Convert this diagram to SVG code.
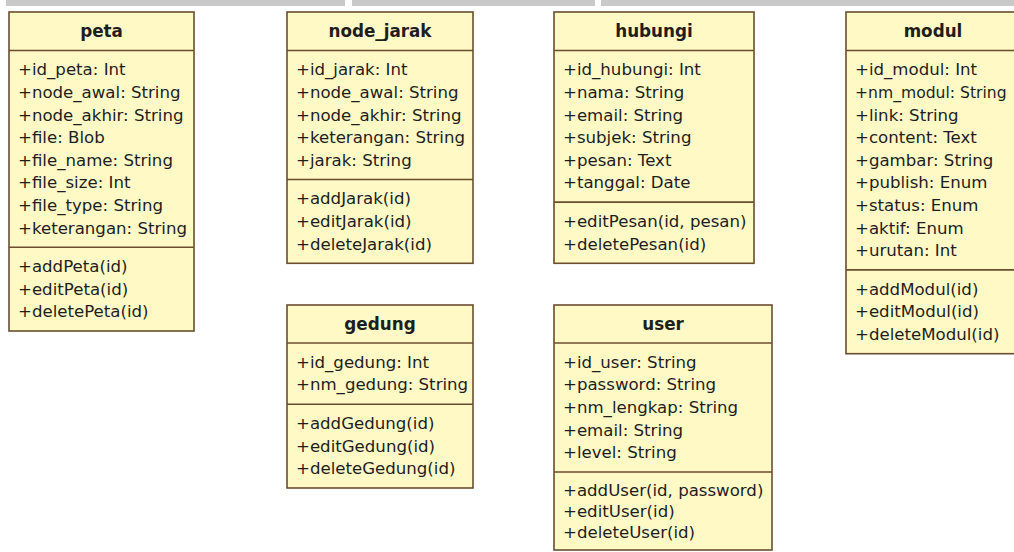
<svg xmlns="http://www.w3.org/2000/svg" width="1014" height="552" viewBox="0 0 1014 552">
  <style>
    .box { fill: #FFF9C6; stroke: #6A4E2E; stroke-width: 1.6; }
    .sep { stroke: #6A4E2E; stroke-width: 1.6; }
    .title { font-family: "DejaVu Sans", sans-serif; font-size: 16.8px; font-weight: bold; fill: #1E1E1E; text-anchor: middle; }
    .row { font-family: "DejaVu Sans", sans-serif; font-size: 16.6px; fill: #1E1E1E; }
    .tight { font-size: 15.6px; }
  </style>

  <rect x="0" y="0" width="1014" height="552" fill="#FFFFFF"/>
  <!-- grey strip along the top edge -->
  <g fill="#C9C9C9">
    <rect x="6" y="0" width="339" height="6"/>
    <rect x="352" y="0" width="243" height="6"/>
    <rect x="601" y="0" width="413" height="6"/>
  </g>

  <!-- classes -->
  <g id="peta">
    <rect class="box" x="9" y="12" width="185" height="319"/>
    <line class="sep" x1="9" y1="50.5" x2="194" y2="50.5"/>
    <line class="sep" x1="9" y1="247.3" x2="194" y2="247.3"/>
    <text class="title" x="101.5" y="37">peta</text>
    <text class="row" x="18" y="75.3">+id_peta: Int</text>
    <text class="row" x="18" y="97.9">+node_awal: String</text>
    <text class="row" x="18" y="120.5">+node_akhir: String</text>
    <text class="row" x="18" y="143.1">+file: Blob</text>
    <text class="row" x="18" y="165.7">+file_name: String</text>
    <text class="row" x="18" y="188.3">+file_size: Int</text>
    <text class="row" x="18" y="210.9">+file_type: String</text>
    <text class="row" x="18" y="233.5">+keterangan: String</text>
    <text class="row" x="18" y="272.1">+addPeta(id)</text>
    <text class="row" x="18" y="294.7">+editPeta(id)</text>
    <text class="row" x="18" y="317.3">+deletePeta(id)</text>
  </g>

  <g id="node_jarak">
    <rect class="box" x="287" y="12" width="186" height="251.3"/>
    <line class="sep" x1="287" y1="50.5" x2="473" y2="50.5"/>
    <line class="sep" x1="287" y1="179.5" x2="473" y2="179.5"/>
    <text class="title" x="380" y="37">node_jarak</text>
    <text class="row" x="296" y="75.3">+id_jarak: Int</text>
    <text class="row" x="296" y="97.9">+node_awal: String</text>
    <text class="row" x="296" y="120.5">+node_akhir: String</text>
    <text class="row" x="296" y="143.1">+keterangan: String</text>
    <text class="row" x="296" y="165.7">+jarak: String</text>
    <text class="row" x="296" y="204.3">+addJarak(id)</text>
    <text class="row" x="296" y="226.9">+editJarak(id)</text>
    <text class="row" x="296" y="249.5">+deleteJarak(id)</text>
  </g>

  <g id="hubungi">
    <rect class="box" x="554" y="12" width="200" height="251.3"/>
    <line class="sep" x1="554" y1="50.5" x2="754" y2="50.5"/>
    <line class="sep" x1="554" y1="202.1" x2="754" y2="202.1"/>
    <text class="title" x="654" y="37">hubungi</text>
    <text class="row" x="563" y="75.3">+id_hubungi: Int</text>
    <text class="row" x="563" y="97.9">+nama: String</text>
    <text class="row" x="563" y="120.5">+email: String</text>
    <text class="row" x="563" y="143.1">+subjek: String</text>
    <text class="row" x="563" y="165.7">+pesan: Text</text>
    <text class="row" x="563" y="188.3">+tanggal: Date</text>
    <text class="row" x="563" y="226.9">+editPesan(id, pesan)</text>
    <text class="row" x="563" y="249.5">+deletePesan(id)</text>
  </g>

  <g id="modul">
    <rect class="box" x="846" y="12" width="174" height="341.7"/>
    <line class="sep" x1="846" y1="50.5" x2="1020" y2="50.5"/>
    <line class="sep" x1="846" y1="269.9" x2="1020" y2="269.9"/>
    <text class="title" x="933" y="37">modul</text>
    <text class="row" x="855" y="75.3">+id_modul: Int</text>
    <text class="row tight" x="855" y="97.9">+nm_modul: String</text>
    <text class="row" x="855" y="120.5">+link: String</text>
    <text class="row" x="855" y="143.1">+content: Text</text>
    <text class="row" x="855" y="165.7">+gambar: String</text>
    <text class="row" x="855" y="188.3">+publish: Enum</text>
    <text class="row" x="855" y="210.9">+status: Enum</text>
    <text class="row" x="855" y="233.5">+aktif: Enum</text>
    <text class="row" x="855" y="256.1">+urutan: Int</text>
    <text class="row" x="855" y="294.7">+addModul(id)</text>
    <text class="row" x="855" y="317.3">+editModul(id)</text>
    <text class="row" x="855" y="339.9">+deleteModul(id)</text>
  </g>

  <g id="gedung">
    <rect class="box" x="287" y="305" width="186" height="183"/>
    <line class="sep" x1="287" y1="343" x2="473" y2="343"/>
    <line class="sep" x1="287" y1="404.2" x2="473" y2="404.2"/>
    <text class="title" x="380" y="329.5">gedung</text>
    <text class="row" x="296" y="367.8">+id_gedung: Int</text>
    <text class="row" x="296" y="390.4">+nm_gedung: String</text>
    <text class="row" x="296" y="429">+addGedung(id)</text>
    <text class="row" x="296" y="451.6">+editGedung(id)</text>
    <text class="row" x="296" y="474.2">+deleteGedung(id)</text>
  </g>

  <g id="user">
    <rect class="box" x="554" y="305" width="218" height="245"/>
    <line class="sep" x1="554" y1="343" x2="772" y2="343"/>
    <line class="sep" x1="554" y1="472" x2="772" y2="472"/>
    <text class="title" x="663" y="329.5">user</text>
    <text class="row" x="563" y="367.8">+id_user: String</text>
    <text class="row" x="563" y="390.4">+password: String</text>
    <text class="row" x="563" y="413">+nm_lengkap: String</text>
    <text class="row" x="563" y="435.6">+email: String</text>
    <text class="row" x="563" y="458.2">+level: String</text>
    <text class="row" x="563" y="495.5">+addUser(id, password)</text>
    <text class="row" x="563" y="516.5">+editUser(id)</text>
    <text class="row" x="563" y="537.5">+deleteUser(id)</text>
  </g>

  <!-- no associations between the classes -->
  <g id="connectors"/>
</svg>
